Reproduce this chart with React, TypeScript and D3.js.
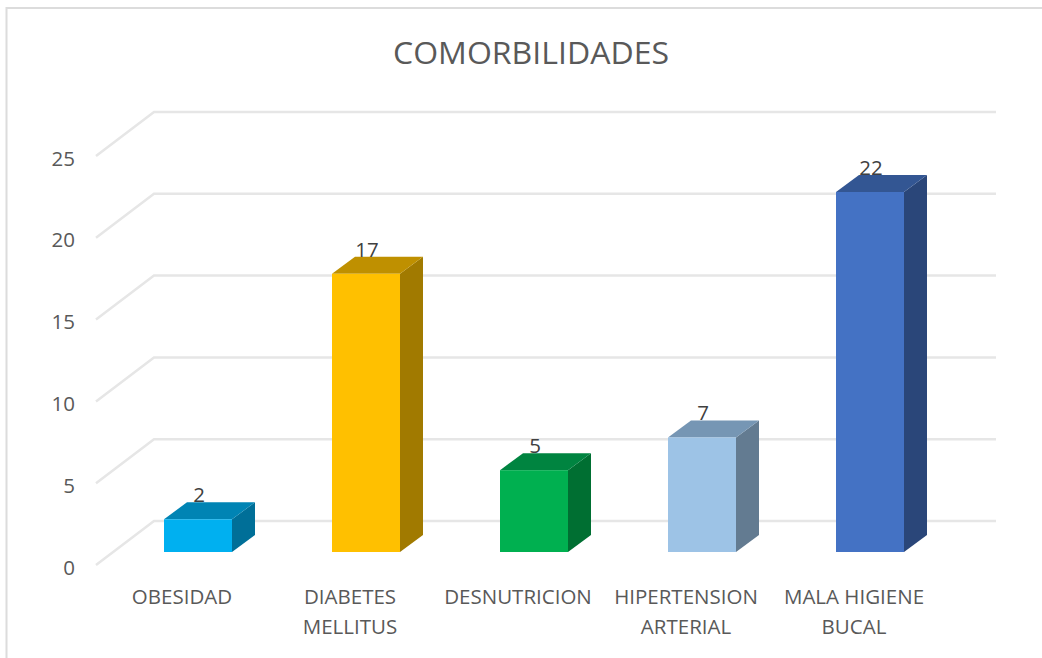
import React from "react";
import * as d3 from "d3";

const categories = ["OBESIDAD", "DIABETES MELLITUS", "DESNUTRICION", "HIPERTENSION ARTERIAL", "MALA HIGIENE BUCAL"];
const categoryLines = [["OBESIDAD"], ["DIABETES", "MELLITUS"], ["DESNUTRICION"], ["HIPERTENSION", "ARTERIAL"], ["MALA HIGIENE", "BUCAL"]];
const values = [2, 17, 5, 7, 22];
const ticks = [0, 5, 10, 15, 20, 25];
const frontColors = ["#00B0F0", "#FFC000", "#00B050", "#9DC3E6", "#4472C4"];
const topColors = ["#0084B4", "#BF9000", "#008440", "#7696B4", "#335693"];
const sideColors = ["#006F98", "#A17A00", "#006F32", "#637B91", "#2A4679"];

const FONT = "'Open Sans', 'Noto Sans', sans-serif";
const TEXT = "#595959";

// scales: bars stand on the mid-depth plane, the walls are offset from it
const yBar = d3.scaleLinear().domain([0, 22]).range([552, 192]);
const yBack = d3.scaleLinear().domain([0, 25]).range([521, 112]);
const yFront = d3.scaleLinear().domain([0, 25]).range([565, 156]);
const x = d3.scaleBand<string>().domain(categories).range([164, 904]).paddingInner(100 / 168).paddingOuter(0);

const DX = 23;
const DY = 17;
const pts = (p: number[][]) => p.map((q) => q.join(",")).join(" ");

export default function App() {
  const bw = x.bandwidth();
  return (
    <svg width={1042} height={658} style={{ position: "absolute", left: 0, top: 0, background: "#fff" }}>
      <path d="M6.5,658 V8 H1042" fill="none" stroke="#DCDCDC" strokeWidth={2} />
      <text x={531} y={64} textAnchor="middle" fontFamily={FONT} fontSize={31} fill={TEXT} textLength={276} lengthAdjust="spacingAndGlyphs">COMORBILIDADES</text>

      {ticks.map((t) => (
        <g key={t}>
          <polyline
            points={pts([[96, yFront(t)], [154, yBack(t)], [996, yBack(t)]])}
            fill="none"
            stroke="#E6E6E6"
            strokeWidth={2.5}
          />
          <text x={75} y={yFront(t) + 9.5} textAnchor="end" fontFamily={FONT} fontSize={20.5} fill={TEXT}>{t}</text>
        </g>
      ))}

      {categories.map((c, i) => {
        const x0 = x(c) as number;
        const x1 = x0 + bw;
        const yT = yBar(values[i]);
        const yB = yBar(0);
        return (
          <g key={c}>
            <polygon points={pts([[x1, yT], [x1 + DX, yT - DY], [x1 + DX, yB - DY], [x1, yB]])} fill={sideColors[i]} />
            <polygon points={pts([[x0, yT], [x0 + DX, yT - DY], [x1 + DX, yT - DY], [x1, yT]])} fill={topColors[i]} />
            <rect x={x0} y={yT} width={bw} height={yB - yT} fill={frontColors[i]} />
            <text x={x0 + bw / 2 + 1} y={yT - 17} textAnchor="middle" fontFamily={FONT} fontSize={20.5} fill="#404040">{values[i]}</text>
            {categoryLines[i].map((line, j) => (
              <text key={line} x={x0 + bw / 2 - 16} y={604 + j * 30} textAnchor="middle" fontFamily={FONT} fontSize={20.5} fill={TEXT}>{line}</text>
            ))}
          </g>
        );
      })}
    </svg>
  );
}
